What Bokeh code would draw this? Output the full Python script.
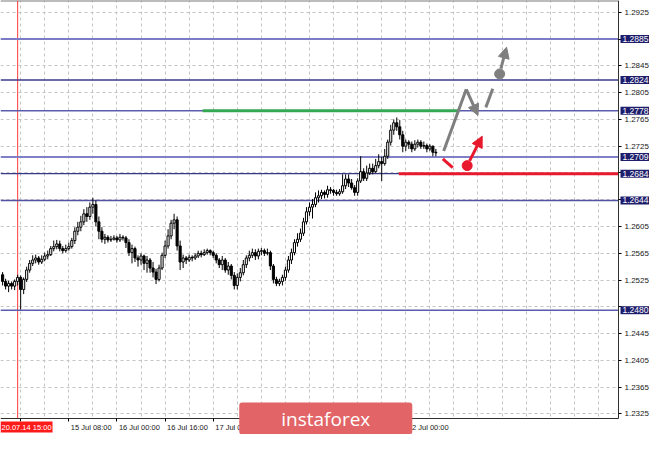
from bokeh.plotting import figure
from bokeh.models import (Range1d, FixedTicker, Label, LabelSet, ColumnDataSource,
                          Arrow, NormalHead)
from bokeh.core.properties import value
from bokeh.embed import file_html
from bokeh.resources import INLINE

# ---------------- data (H1 candles, bar index 0 = 14 Jul 10:00) ----------------
first_open = 1.2533
closes = [1.2523, 1.2516, 1.2520, 1.2516, 1.2523, 1.2529, 1.2511, 1.2526, 1.2540, 1.2550,
          1.2555, 1.2558, 1.2552, 1.2556, 1.2561, 1.2563, 1.2572, 1.2575, 1.2579, 1.2572,
          1.2569, 1.2572, 1.2575, 1.2584, 1.2598, 1.2604, 1.2612, 1.2624, 1.2620, 1.2634,
          1.2638, 1.2612, 1.2598, 1.2586, 1.2589, 1.2585, 1.2586, 1.2588, 1.2585, 1.2589,
          1.2588, 1.2581, 1.2566, 1.2572, 1.2558, 1.2555, 1.2561, 1.2550, 1.2555, 1.2543,
          1.2537, 1.2526, 1.2543, 1.2562, 1.2576, 1.2591, 1.2610, 1.2615, 1.2576, 1.2552,
          1.2558, 1.2555, 1.2559, 1.2558, 1.2561, 1.2565, 1.2563, 1.2566, 1.2569, 1.2566,
          1.2562, 1.2555, 1.2548, 1.2555, 1.2540, 1.2546, 1.2532, 1.2517, 1.2529, 1.2536,
          1.2548, 1.2558, 1.2562, 1.2566, 1.2561, 1.2568, 1.2569, 1.2565, 1.2566, 1.2546,
          1.2526, 1.2520, 1.2523, 1.2529, 1.2540, 1.2555, 1.2566, 1.2581, 1.2586, 1.2595,
          1.2612, 1.2627, 1.2634, 1.2638, 1.2648, 1.2651, 1.2656, 1.2653, 1.2660, 1.2659,
          1.2656, 1.2654, 1.2657, 1.2666, 1.2676, 1.2670, 1.2663, 1.2656, 1.2673, 1.2687,
          1.2677, 1.2685, 1.2692, 1.2687, 1.2696, 1.2702, 1.2699, 1.2710, 1.2731, 1.2749,
          1.2760, 1.2754, 1.2742, 1.2725, 1.2731, 1.2728, 1.2721, 1.2728, 1.2731, 1.2725,
          1.2726, 1.2721, 1.2725, 1.2716, 1.2715]
highs = [1.2537, 1.2527, 1.2524, 1.2523, 1.2526, 1.2533, 1.2532, 1.2529, 1.2545, 1.2555,
         1.2562, 1.2563, 1.2561, 1.2562, 1.2566, 1.2569, 1.2576, 1.2584, 1.2585, 1.2584,
         1.2576, 1.2578, 1.2581, 1.2588, 1.2604, 1.2612, 1.2621, 1.2631, 1.2634, 1.2641,
         1.2648, 1.2644, 1.2620, 1.2604, 1.2594, 1.2592, 1.2591, 1.2592, 1.2591, 1.2594,
         1.2592, 1.2591, 1.2586, 1.2578, 1.2575, 1.2562, 1.2565, 1.2563, 1.2561, 1.2558,
         1.2552, 1.2542, 1.2548, 1.2566, 1.2584, 1.2601, 1.2615, 1.2624, 1.2620, 1.2584,
         1.2563, 1.2561, 1.2563, 1.2562, 1.2565, 1.2569, 1.2569, 1.2571, 1.2572, 1.2571,
         1.2569, 1.2565, 1.2558, 1.2561, 1.2558, 1.2552, 1.2549, 1.2537, 1.2535, 1.2543,
         1.2555, 1.2562, 1.2569, 1.2572, 1.2571, 1.2572, 1.2573, 1.2572, 1.2572, 1.2569,
         1.2549, 1.2530, 1.2527, 1.2533, 1.2545, 1.2561, 1.2572, 1.2586, 1.2595, 1.2602,
         1.2618, 1.2634, 1.2641, 1.2646, 1.2656, 1.2659, 1.2660, 1.2659, 1.2666, 1.2664,
         1.2661, 1.2660, 1.2661, 1.2683, 1.2683, 1.2683, 1.2676, 1.2667, 1.2677, 1.2710,
         1.2692, 1.2696, 1.2699, 1.2699, 1.2706, 1.2713, 1.2709, 1.2721, 1.2735, 1.2757,
         1.2765, 1.2768, 1.2764, 1.2748, 1.2735, 1.2734, 1.2732, 1.2734, 1.2735, 1.2734,
         1.2732, 1.2729, 1.2728, 1.2726, 1.2721]
lows = [1.2517, 1.2511, 1.2507, 1.2511, 1.2510, 1.2517, 1.2481, 1.2504, 1.2522, 1.2536,
        1.2546, 1.2550, 1.2548, 1.2549, 1.2553, 1.2556, 1.2561, 1.2568, 1.2571, 1.2568,
        1.2565, 1.2566, 1.2569, 1.2572, 1.2579, 1.2592, 1.2598, 1.2607, 1.2612, 1.2615,
        1.2624, 1.2605, 1.2586, 1.2581, 1.2579, 1.2581, 1.2582, 1.2584, 1.2581, 1.2582,
        1.2584, 1.2573, 1.2561, 1.2550, 1.2552, 1.2545, 1.2548, 1.2540, 1.2536, 1.2536,
        1.2529, 1.2519, 1.2523, 1.2540, 1.2558, 1.2572, 1.2586, 1.2601, 1.2569, 1.2540,
        1.2543, 1.2549, 1.2552, 1.2553, 1.2555, 1.2558, 1.2559, 1.2561, 1.2563, 1.2562,
        1.2558, 1.2550, 1.2543, 1.2540, 1.2536, 1.2533, 1.2526, 1.2511, 1.2511, 1.2523,
        1.2532, 1.2543, 1.2553, 1.2558, 1.2555, 1.2556, 1.2562, 1.2561, 1.2562, 1.2540,
        1.2520, 1.2516, 1.2516, 1.2517, 1.2524, 1.2536, 1.2549, 1.2562, 1.2575, 1.2582,
        1.2591, 1.2608, 1.2621, 1.2617, 1.2634, 1.2641, 1.2646, 1.2647, 1.2648, 1.2654,
        1.2651, 1.2651, 1.2651, 1.2654, 1.2661, 1.2664, 1.2660, 1.2651, 1.2651, 1.2670,
        1.2673, 1.2673, 1.2682, 1.2683, 1.2685, 1.2692, 1.2673, 1.2696, 1.2706, 1.2726,
        1.2742, 1.2748, 1.2735, 1.2716, 1.2718, 1.2721, 1.2716, 1.2718, 1.2723, 1.2721,
        1.2721, 1.2716, 1.2718, 1.2710, 1.2710]

y_ticks = [1.2325, 1.2365, 1.2405, 1.2445, 1.2485, 1.2525, 1.2565, 1.2605, 1.2645,
           1.2685, 1.2725, 1.2765, 1.2805, 1.2845, 1.2885, 1.2925]
y_ticks_hidden = [1.2485, 1.2645, 1.2685, 1.2885]
levels = [1.2885, 1.2824, 1.2778, 1.2709, 1.2684, 1.2644, 1.2480]
level_labels = ["1.2885", "1.2824", "1.2778", "1.2709", "1.2684", "1.2644", "1.2480"]

x_tick_bars = [6, 22, 38, 54, 70, 86, 102, 118, 134]
x_label_bars = [22, 38, 54, 70, 134]
x_label_texts = ["15 Jul 08:00", "16 Jul 00:00", "16 Jul 16:00", "17 Jul 08:00", "22 Jul 00:00"]
x_grid_bars = list(range(6, 205, 8))
vline_bar = 5
vline_text = "20.07.14 15:00"

# scenario drawings (bar index, price)
green_level = (66.5, 151.8, 1.2778)
red_level = (131.7, 204.7, 1.2684)
grey_up_x = [146.6, 154.1]
grey_up_y = [1.2718, 1.2810]
grey_down_arrow = (154.1, 1.2810, 158.0, 1.2771)
grey_dash_x = [160.6, 162.9]
grey_dash_y = [1.2783, 1.2811]
grey_dot = (165.2, 1.2833)
grey_up_arrow = (165.6, 1.2841, 167.5, 1.2873)
red_dash_x = [146.3, 149.6]
red_dash_y = [1.2706, 1.2693]
red_dot = (154.4, 1.2696)
red_up_arrow = (155.2, 1.2703, 159.4, 1.2740)

# visible chart window and the full canvas window (axis strips inside the frame)
chart_x0, chart_x1 = -0.7, 204.7
chart_y0, chart_y1 = 1.23182, 1.29427
full_x1 = 215.0
full_y0 = 1.22943

# ---------------- styles ----------------
FONT = "Liberation Sans"
GREEN = "#34a853"
RED = "#e8192c"
GREY = "#7f7f7f"
level_colors = ["#7c7cc6", "#3a3a8a", "#5c5cae", "#8080c8", "#3a3a8a", "#5252a2", "#5c5cae"]
level_widths = [2, 1.4, 1.6, 2, 1.4, 1.6, 1.6]

# ---------------- figure ----------------
p = figure(width=649, height=434, output_backend="svg", toolbar_location=None,
           x_range=Range1d(chart_x0, full_x1), y_range=Range1d(full_y0, chart_y1),
           y_axis_location="right", min_border_left=0, min_border_top=0,
           min_border_right=0, min_border_bottom=0)
p.outline_line_color = None
p.background_fill_color = "white"
p.border_fill_color = "white"

# axes drawn at the chart edges
p.yaxis.fixed_location = chart_x1
p.yaxis.bounds = (chart_y0, chart_y1)
p.yaxis.ticker = FixedTicker(ticks=y_ticks)
p.yaxis.major_label_overrides = {t: ("" if t in y_ticks_hidden else f"{t:.4f}") for t in y_ticks}
p.yaxis.major_label_text_font = FONT
p.yaxis.major_label_text_font_size = "8px"
p.yaxis.major_label_text_color = "#202020"
p.yaxis.major_tick_in = 0
p.yaxis.major_tick_out = 3
p.yaxis.minor_tick_line_color = None
p.yaxis.major_label_standoff = 3
p.yaxis.axis_line_color = "#303030"

p.xaxis.fixed_location = chart_y0
p.xaxis.bounds = (chart_x0, chart_x1)
p.xaxis.ticker = FixedTicker(ticks=x_tick_bars)
p.xaxis.major_label_overrides = {t: "" for t in x_tick_bars}
p.xaxis.major_tick_in = 0
p.xaxis.major_tick_out = 3
p.xaxis.minor_tick_line_color = None
p.xaxis.axis_line_color = "#303030"
p.xaxis.major_label_standoff = 0

# grids
p.xgrid.ticker = FixedTicker(ticks=x_grid_bars)
for g in (p.xgrid, p.ygrid):
    g.grid_line_color = "#c4c4c4"
    g.grid_line_dash = "3 3"
    g.grid_line_width = 1

# white axis strips (hide grid outside the chart)
p.quad(left=[chart_x1, chart_x0], right=[full_x1, full_x1],
       bottom=[full_y0, full_y0], top=[chart_y1, chart_y0],
       fill_color="white", line_color=None)

# top border line
p.segment(x0=[chart_x0], y0=[chart_y1], x1=[chart_x1], y1=[chart_y1],
          line_color="#7a7a7a", line_width=2)
# red vertical time line
p.segment(x0=[vline_bar], y0=[chart_y0], x1=[vline_bar], y1=[chart_y1],
          line_color="#ff3b3b", line_width=1)
# horizontal levels
p.segment(x0=[chart_x0] * len(levels), y0=levels, x1=[chart_x1] * len(levels), y1=levels,
          line_color=level_colors, line_width=level_widths)

# candles
opens = [first_open] + closes[:-1]
bars = list(range(len(closes)))
bull = [c >= o for o, c in zip(opens, closes)]
src = ColumnDataSource(dict(
    x=bars, o=opens, h=highs, l=lows, c=closes,
    top=[max(o, c) for o, c in zip(opens, closes)],
    bot=[min(o, c) for o, c in zip(opens, closes)],
    fill=["white" if b else "black" for b in bull],
))
p.segment(x0="x", y0="h", x1="x", y1="l", source=src, line_color="black", line_width=1)
p.vbar(x="x", width=0.7, top="top", bottom="bot", source=src,
       fill_color="fill", line_color="black", line_width=1)

# green / red target levels
p.segment(x0=[green_level[0]], y0=[green_level[2]], x1=[green_level[1]], y1=[green_level[2]],
          line_color=GREEN, line_width=3)
p.segment(x0=[red_level[0]], y0=[red_level[2]], x1=[red_level[1]], y1=[red_level[2]],
          line_color=RED, line_width=3)

# grey scenario
p.line(grey_up_x, grey_up_y, line_color=GREY, line_width=3)
p.add_layout(Arrow(x_start=grey_down_arrow[0], y_start=grey_down_arrow[1],
                   x_end=grey_down_arrow[2], y_end=grey_down_arrow[3],
                   line_color=GREY, line_width=3,
                   end=NormalHead(size=11, fill_color=GREY, line_color=GREY)))
p.line(grey_dash_x, grey_dash_y, line_color=GREY, line_width=3)
p.scatter([grey_dot[0]], [grey_dot[1]], size=10, color=GREY)
p.add_layout(Arrow(x_start=grey_up_arrow[0], y_start=grey_up_arrow[1],
                   x_end=grey_up_arrow[2], y_end=grey_up_arrow[3],
                   line_color=GREY, line_width=3,
                   end=NormalHead(size=11, fill_color=GREY, line_color=GREY)))

# red scenario
p.line(red_dash_x, red_dash_y, line_color=RED, line_width=3)
p.scatter([red_dot[0]], [red_dot[1]], size=10, color=RED)
p.add_layout(Arrow(x_start=red_up_arrow[0], y_start=red_up_arrow[1],
                   x_end=red_up_arrow[2], y_end=red_up_arrow[3],
                   line_color=RED, line_width=3,
                   end=NormalHead(size=11, fill_color=RED, line_color=RED)))

# price level labels on the axis
for lv, txt in zip(levels, level_labels):
    p.add_layout(Label(x=chart_x1, y=lv, x_offset=2, text=txt, text_align="left",
                       text_baseline="middle", text_font=FONT, text_font_size="8.5px",
                       text_color="white", background_fill_color="#1d1d6b",
                       padding=(2, 1)))

# time axis labels (left aligned at their ticks)
lab_src = ColumnDataSource(dict(x=x_label_bars, y=[chart_y0] * len(x_label_bars), t=x_label_texts))
p.add_layout(LabelSet(x="x", y="y", text="t", source=lab_src, x_offset=2, y_offset=-4,
                      text_align="left", text_baseline="top", text_font=value(FONT),
                      text_font_size="7.5px", text_color="#202020"))

# red time label of the vertical line
p.add_layout(Label(x=chart_x0, y=chart_y0, x_offset=0, y_offset=-3, text=vline_text,
                   text_align="left", text_baseline="top", text_font=FONT,
                   text_font_size="7.5px", text_color="white",
                   background_fill_color="#ff1a1a", padding=(1, 1)))

# watermark
p.add_layout(Label(x=107.4, y=chart_y0, text="instaforex", text_align="center",
                   text_baseline="middle", text_font="Open Sans", text_font_size="19px",
                   text_color="white", background_fill_color="#e26466",
                   padding=(42, 3), border_radius=3))

open("out.html", "w").write(file_html(p, INLINE))
